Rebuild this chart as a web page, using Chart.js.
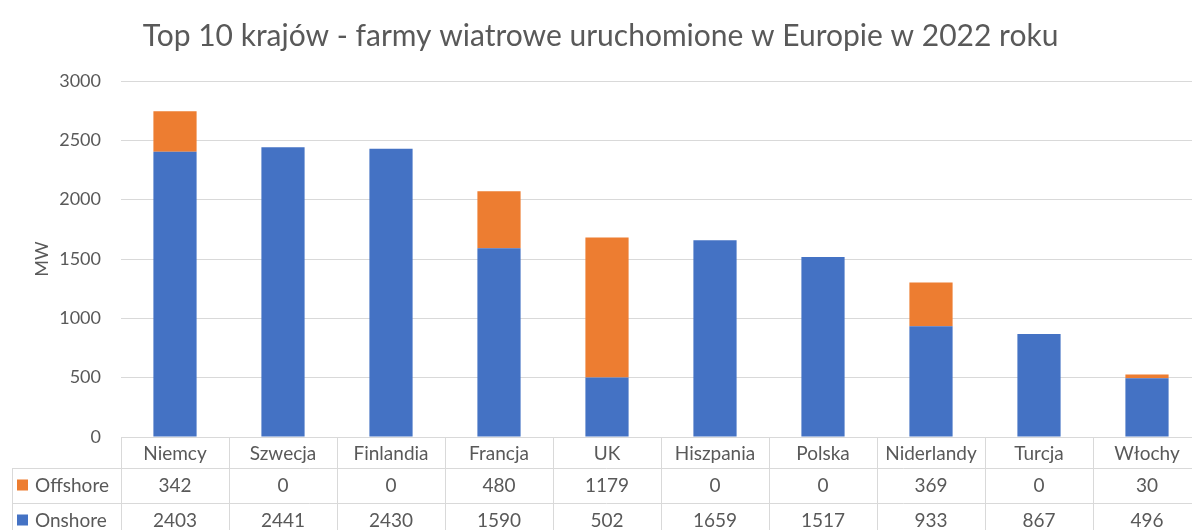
<!DOCTYPE html>
<html lang="pl">
<head>
<meta charset="utf-8">
<title>Top 10 krajów - farmy wiatrowe</title>
<script src="https://cdn.jsdelivr.net/npm/chart.js@4.4.1/dist/chart.umd.min.js"></script>
<style>
  html, body { margin: 0; padding: 0; background: #ffffff; overflow: hidden; }
  #wrap { width: 1210px; height: 530px; }
</style>
</head>
<body>
<div id="wrap"><canvas id="chart" width="1210" height="530"></canvas></div>
<script>
// Moc farm wiatrowych uruchomionych w 2022 roku (MW)
const countries = ['Niemcy', 'Szwecja', 'Finlandia', 'Francja', 'UK', 'Hiszpania', 'Polska', 'Niderlandy', 'Turcja', 'Włochy'];
const offshore = [342, 0, 0, 480, 1179, 0, 0, 369, 0, 30];
const onshore = [2403, 2441, 2430, 1590, 502, 1659, 1517, 933, 867, 496];
const yTicks = [0, 500, 1000, 1500, 2000, 2500, 3000];

const FONT = 'Lato, "Open Sans", sans-serif';
const TEXT = '#595959';
const GRID = '#d9d9d9';
const BLUE = '#4472C4';
const ORANGE = '#ED7D31';

// Wiersze tabeli danych pod osią X (kolejność jak w tabeli)
const tableRows = [
  { label: 'Offshore', color: ORANGE, values: offshore },
  { label: 'Onshore', color: BLUE, values: onshore }
];

const dataTablePlugin = {
  id: 'dataTable',
  afterDraw(chart) {
    const ctx = chart.ctx;
    const x = chart.scales.x;
    const area = chart.chartArea;
    const n = countries.length;
    const colW = (area.right - area.left) / n;
    const top = area.bottom;
    const headerH = 31;
    const rowH = 35;
    const tableLeft = 12;
    const rowTops = [top + headerH, top + headerH + rowH, top + headerH + 2 * rowH];

    ctx.save();
    ctx.strokeStyle = GRID;
    ctx.lineWidth = 1;

    // poziome linie
    ctx.beginPath();
    ctx.moveTo(area.left, top + 0.5);
    ctx.lineTo(area.right, top + 0.5);
    rowTops.forEach(y => {
      ctx.moveTo(tableLeft, Math.round(y) + 0.5);
      ctx.lineTo(area.right, Math.round(y) + 0.5);
    });
    // pionowe linie
    for (let k = 0; k <= n; k++) {
      const vx = Math.round(area.left + k * colW) + 0.5;
      ctx.moveTo(vx, top);
      ctx.lineTo(vx, chart.height);
    }
    ctx.moveTo(tableLeft + 0.5, rowTops[0]);
    ctx.lineTo(tableLeft + 0.5, chart.height);
    ctx.stroke();

    ctx.fillStyle = TEXT;
    ctx.font = '19px ' + FONT;
    ctx.textAlign = 'center';
    ctx.textBaseline = 'middle';

    // nagłówki kategorii
    countries.forEach((c, i) => {
      ctx.fillText(c, x.getPixelForValue(i), top + headerH / 2 + 1);
    });

    // wiersze z wartościami
    tableRows.forEach((row, r) => {
      const cy = rowTops[r] + rowH / 2;
      ctx.fillStyle = row.color;
      ctx.fillRect(tableLeft + 5, cy - 6, 11, 11);
      ctx.fillStyle = TEXT;
      ctx.textAlign = 'left';
      ctx.fillText(row.label, tableLeft + 23, cy);
      ctx.textAlign = 'center';
      row.values.forEach((v, i) => {
        ctx.fillText(String(v), x.getPixelForValue(i), cy);
      });
    });
    ctx.restore();
  }
};

new Chart(document.getElementById('chart'), {
  type: 'bar',
  data: {
    labels: countries,
    datasets: [
      { label: 'Onshore', data: onshore, backgroundColor: BLUE, stack: 's' },
      { label: 'Offshore', data: offshore, backgroundColor: ORANGE, stack: 's' }
    ]
  },
  options: {
    responsive: false,
    animation: false,
    devicePixelRatio: 1,
    datasets: { bar: { categoryPercentage: 1.0, barPercentage: 0.4 } },
    layout: { padding: { left: 0, right: 9, top: 0, bottom: 93 } },
    plugins: {
      legend: { display: false },
      tooltip: { enabled: false },
      title: {
        display: true,
        text: 'Top 10 krajów - farmy wiatrowe uruchomione w Europie w 2022 roku',
        color: TEXT,
        font: { family: FONT, size: 30, weight: 'normal' },
        padding: { top: 18, bottom: 27 }
      }
    },
    scales: {
      x: {
        stacked: true,
        grid: { display: false },
        border: { display: false },
        ticks: { display: false },
        afterFit(scale) { scale.height = 0; }
      },
      y: {
        stacked: true,
        min: 0,
        max: 3000,
        afterBuildTicks(scale) { scale.ticks = yTicks.map(v => ({ value: v })); },
        afterFit(scale) { scale.width = 121; },
        grid: { color: GRID, drawTicks: false },
        border: { display: false },
        ticks: {
          color: TEXT,
          padding: 20,
          font: { family: FONT, size: 18 },
          callback: (v) => String(v)
        },
        title: {
          display: true,
          text: 'MW',
          color: TEXT,
          font: { family: FONT, size: 18 },
          padding: { top: 31, bottom: 0 }
        }
      }
    }
  },
  plugins: [dataTablePlugin]
});
</script>
</body>
</html>
